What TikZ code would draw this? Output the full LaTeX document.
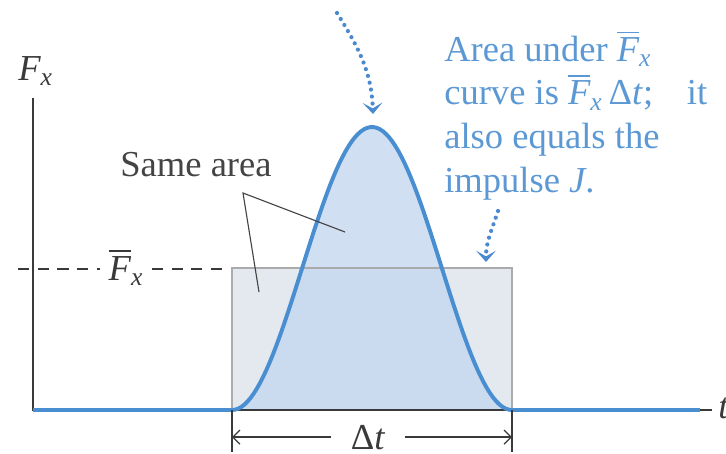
\documentclass[tikz,border=0pt]{standalone}
\usepackage{amsmath}
\usepackage{fontspec}
\setmainfont{Liberation Serif}
\usetikzlibrary{positioning,calc,arrows.meta}
\definecolor{axisgray}{HTML}{3A3A3A}
\definecolor{inkgray}{HTML}{444444}
\definecolor{pulseblue}{HTML}{4A8ED2}
\definecolor{pulsefill}{HTML}{C4D8EF}
\definecolor{boxfill}{HTML}{E4E9F0}
\definecolor{boxline}{HTML}{ABABAE}
\definecolor{noteblue}{HTML}{5C99D4}
\definecolor{dotblue}{HTML}{4C8AD0}
\newcommand{\Favg}{$\overline{\text{\itshape F}}_{\text{\itshape x}}$}

\begin{document}
\begin{tikzpicture}[
  x=0.025cm, y=-0.025cm,
  font=\fontsize{26}{31}\selectfont,
  axis/.style={line width=1.5pt, draw=axisgray},
  pulse/.style={line width=2.8pt, draw=pulseblue},
  avgline/.style={line width=0.9pt, draw=axisgray, dash pattern=on 8pt off 6pt},
  lead/.style={line width=0.8pt, draw=inkgray},
  hint/.style={line width=3pt, draw=dotblue, line cap=round,
    dash pattern=on 0pt off 5pt,
    -{Stealth[length=8pt,width=14pt,inset=4pt]}},
  dim/.style={line width=0.9pt, draw=axisgray, -{Straight Barb[length=5pt,width=10pt]}},
]
\useasboundingbox (0,0) rectangle (726,454);

\coordinate (o) at (33,410);
\coordinate (ytop) at (33,98);
\coordinate (xend) at (712,410);
\coordinate (a) at (232,410);
\coordinate (b) at (512,410);
\coordinate (c) at (700,410);

\fill[boxfill] (232,268) rectangle (512,410);
\fill[pulsefill, opacity=0.8] plot[domain=0:1, samples=90] ({232+280*\x},{410-283*pow(sin(180*\x),2)});
\draw[boxline, line width=1.8pt] (232,268) rectangle (512,410);

\draw[axis] (ytop) -- (o) -- (xend);
\draw[pulse] (o) -- (a);
\draw[pulse] (b) -- (c);
\draw[pulse, line join=round] plot[domain=0:1, samples=90] ({232+280*\x},{410-283*pow(sin(180*\x),2)});

\node[anchor=base west, inner sep=0, text=axisgray] (fx) at (18,80) {$\text{\itshape F}_{\text{\itshape x}}$};
\node[anchor=base west, inner sep=0, text=axisgray] (tlab) at (718,418) {\textit{t}};

\coordinate (dl) at (18,269);
\coordinate (dr) at (224,269);
\node[anchor=base west, inner xsep=6pt, inner ysep=0, text=axisgray] (fbar) at (100,280) {\Favg};
\draw[avgline] (dl) -- (fbar.west |- dl);
\draw[avgline] (fbar.east |- dr) -- (dr);

\node[anchor=base, text=inkgray] (same) at (196,176) {Same area};
\coordinate (v) at (243,193);
\coordinate (in1) at (345,232);
\coordinate (in2) at (259,292);
\draw[lead] (in1) -- (v) -- (in2);

\node[anchor=base west, inner sep=0, text=noteblue, align=left] (note) at (444,192)
  {Area under \Favg\\curve is \Favg\,Δ\textit{t};\hspace{24pt}it\\also equals the\\impulse \textit{J}.};

\coordinate (s1) at (337,13);
\coordinate (tip1) at (373,114);
\draw[hint] (s1) to[out=-58, in=92] (tip1);
\coordinate (s2) at (498,211);
\coordinate (tip2) at (486,262);
\draw[hint] (s2) to[out=-108, in=90] (tip2);

\coordinate (t1) at (232,452);
\coordinate (t2) at (512,452);
\draw[axis, line width=0.9pt] (a) -- (t1);
\draw[axis, line width=0.9pt] (b) -- (t2);
\node[anchor=base, inner xsep=14pt, text=axisgray] (dt) at (368,449) {Δ\textit{t}};
\draw[dim] (dt.west) -- (a |- dt.west);
\draw[dim] (dt.east) -- (b |- dt.east);
\end{tikzpicture}
\end{document}
